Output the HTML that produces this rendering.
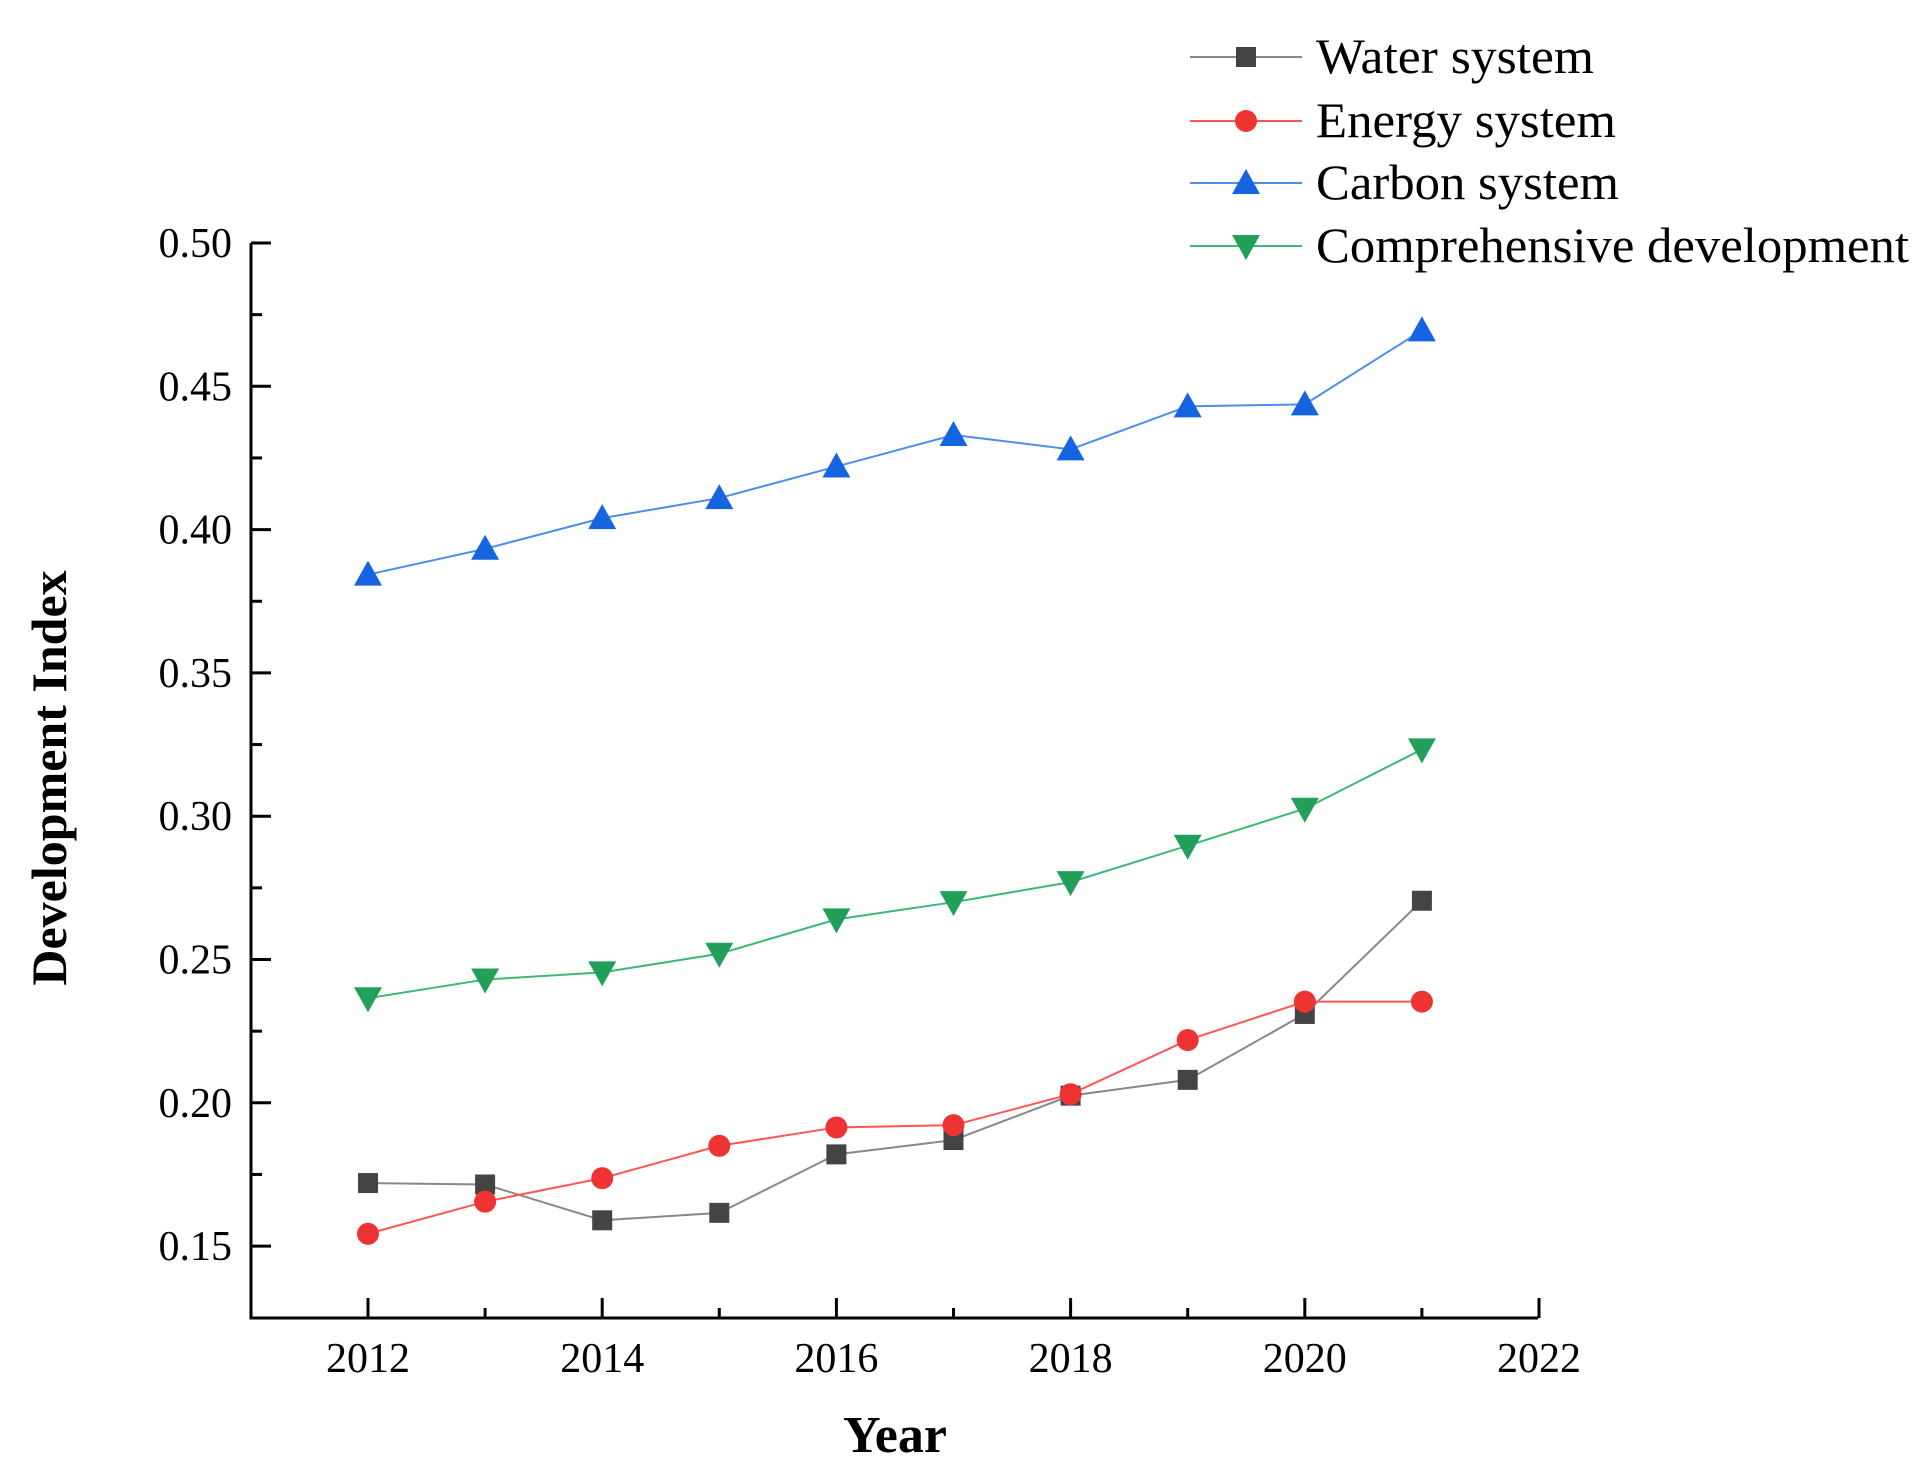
<!DOCTYPE html>
<html><head><meta charset="utf-8"><style>
html,body{margin:0;padding:0;background:#fff;}
svg{display:block;font-family:"Liberation Serif",serif;}
</style></head><body>
<svg id="s" width="1931" height="1479" viewBox="0 0 1931 1479" xmlns="http://www.w3.org/2000/svg">
<g id="g"></g>
<text x="895" y="1452" font-size="52" font-weight="bold" text-anchor="middle">Year</text>
<text transform="translate(66,778) rotate(-90)" font-size="50" font-weight="bold" text-anchor="middle">Development Index</text>
</svg>
<script>
const g=document.getElementById('g');let h='';
const X=y=>368+(y-2012)*117.1, Y=v=>243+(0.5-v)*2866;
h+=`<path d="M251,243 V1318 H1538" fill="none" stroke="#000" stroke-width="3"/>`;
for(let i=0;i<=14;i++){const v=0.15+i*0.025;if(v>0.5001)break;const y=Y(v);const major=i%2==0;
h+=`<line x1="251" x2="${major?271:262}" y1="${y}" y2="${y}" stroke="#000" stroke-width="3"/>`;
if(major)h+=`<text x="232" y="${y+14}" font-size="42" text-anchor="end">${v.toFixed(2)}</text>`;}
for(let yr=2012;yr<=2022;yr++){const x=X(yr);const major=(yr%2==0);
h+=`<line x1="${x}" x2="${x}" y1="1318" y2="${major?1298:1308}" stroke="#000" stroke-width="3"/>`;
if(major)h+=`<text x="${x}" y="1372" font-size="42" text-anchor="middle">${yr}</text>`;}
const S=[
{c:'#888',m:'#444',t:'sq',d:[0.172,0.1715,0.159,0.1616,0.182,0.187,0.2025,0.208,0.231,0.2705]},
{c:'#f55',m:'#ee3333',t:'ci',d:[0.1543,0.1655,0.1737,0.185,0.1914,0.1922,0.203,0.2219,0.2353,0.2353]},
{c:'#4a8fe8',m:'#1565e0',t:'up',d:[0.3843,0.3933,0.404,0.411,0.422,0.433,0.428,0.443,0.4437,0.4695]},
{c:'#3cb878',m:'#22a05a',t:'dn',d:[0.2365,0.243,0.2455,0.252,0.264,0.270,0.277,0.2897,0.3026,0.3233]}];
function mk(t,x,y,col){
if(t=='sq')return `<rect x="${x-10}" y="${y-10}" width="20" height="20" fill="${col}"/>`;
if(t=='ci')return `<circle cx="${x}" cy="${y}" r="11" fill="${col}"/>`;
if(t=='up')return `<polygon points="${x},${y-14} ${x-14},${y+11} ${x+14},${y+11}" fill="${col}"/>`;
return `<polygon points="${x},${y+14} ${x-14},${y-11} ${x+14},${y-11}" fill="${col}"/>`;}
S.forEach(s=>{const p=s.d.map((v,i)=>`${X(2012+i)},${Y(v)}`).join(' ');
h+=`<polyline points="${p}" fill="none" stroke="${s.c}" stroke-width="2"/>`;});
S.forEach(s=>{s.d.forEach((v,i)=>{h+=mk(s.t,X(2012+i),Y(v),s.m);});});
const L=['Water system','Energy system','Carbon system','Comprehensive development'];
const W=[278,300,303,593];
const LY=[57,121,183,246];
S.forEach((s,i)=>{const y=LY[i];
h+=`<line x1="1190" x2="1302" y1="${y}" y2="${y}" stroke="${s.c}" stroke-width="2"/>`;
h+=mk(s.t,1246,y,s.m);
h+=`<text x="1316" y="${y+16}" font-size="50" textLength="${W[i]}" lengthAdjust="spacingAndGlyphs">${L[i]}</text>`;});
g.innerHTML=h;
</script>
</body></html>
